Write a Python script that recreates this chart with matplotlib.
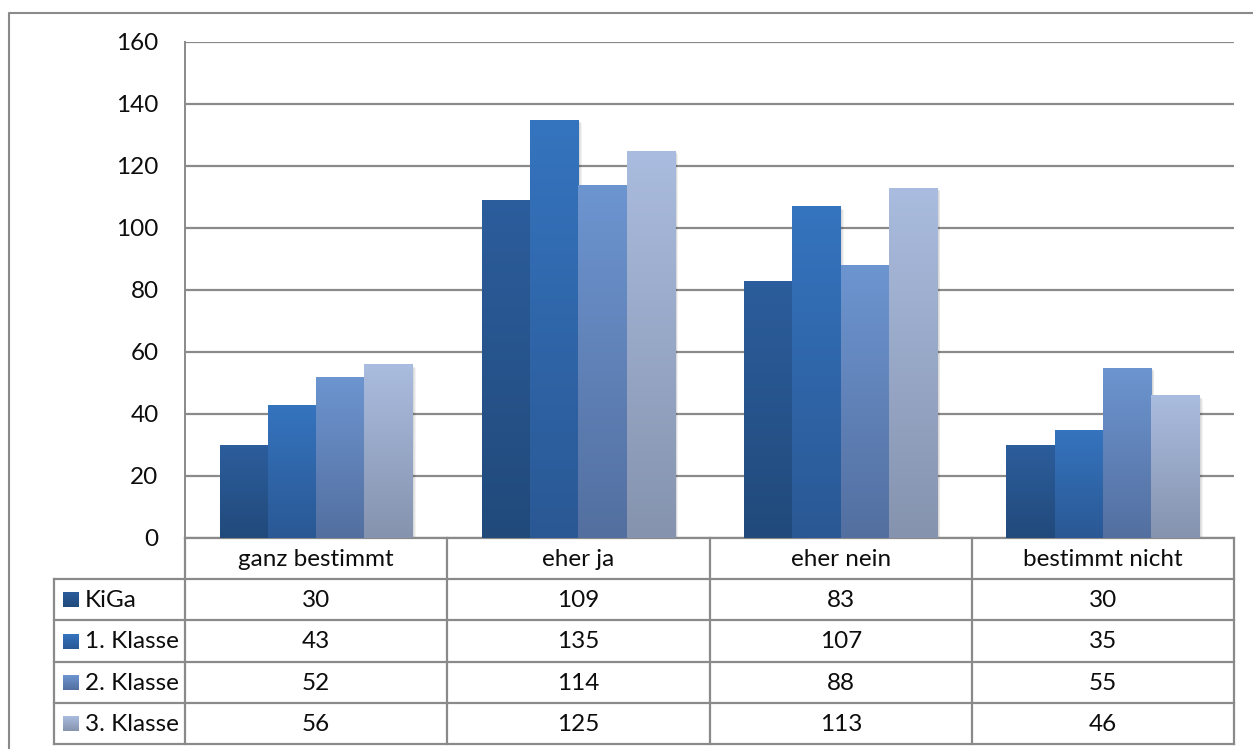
import matplotlib.pyplot as plt
import numpy as np
import matplotlib.transforms as mtransforms
from matplotlib.colors import to_rgb
from matplotlib.patches import Rectangle

plt.rcParams['font.family'] = ['Lato', 'DejaVu Sans']

categories = ['ganz bestimmt', 'eher ja', 'eher nein', 'bestimmt nicht']
series = ['KiGa', '1. Klasse', '2. Klasse', '3. Klasse']
kiga = [30, 109, 83, 30]
klasse1 = [43, 135, 107, 35]
klasse2 = [52, 114, 88, 55]
klasse3 = [56, 125, 113, 46]
values = [kiga, klasse1, klasse2, klasse3]
y_ticks = [0, 20, 40, 60, 80, 100, 120, 140, 160]

# gradient end colours for each series (top, bottom)
top_colors = ['#2c5d9c', '#3574bf', '#6d95d0', '#aabcdf']
bottom_colors = ['#214a7b', '#2a5894', '#536fa0', '#8593ae']

line_gray = '#8a8a8a'
text_col = '#0d0d0d'
fs = 17.5
W, H = 1253, 749
fig = plt.figure(figsize=(W / 100, H / 100), dpi=100)


def px_rect(x0, y0, x1, y1):
    """pixel box (top-left origin) -> figure fraction rect"""
    return [x0 / W, 1 - y1 / H, (x1 - x0) / W, (y1 - y0) / H]


def gradient(top, bottom, n=256):
    t = np.linspace(0, 1, n)[:, None]
    top, bottom = np.array(to_rgb(top)), np.array(to_rgb(bottom))
    return (top * (1 - t) + bottom * t)[:, None, :]


# overlay for the frame and the data table, in pixel units
tab = fig.add_axes([0, 0, 1, 1], zorder=0)
tab.set_xlim(0, W)
tab.set_ylim(H, 0)
tab.axis('off')

ax = fig.add_axes(px_rect(185, 42, 1234, 538), zorder=1)
ax.patch.set_alpha(0)

x = np.arange(len(categories))
width = 0.184
for i, (name, vals) in enumerate(zip(series, values)):
    pos = x + (i - 1.5) * width
    bars = ax.bar(pos, vals, width, color='none', edgecolor='none', zorder=3)
    img = gradient(top_colors[i], bottom_colors[i])
    for b in bars:
        bx, bw, bh = b.get_x(), b.get_width(), b.get_height()
        # soft drop shadow
        for k in (1, 2, 3, 4):
            off = mtransforms.offset_copy(ax.transData, fig=fig, x=k * 0.6, y=-k * 0.6, units='points')
            ax.add_patch(Rectangle((bx, 0), bw, bh, transform=off, facecolor='#000000',
                                   alpha=0.05, edgecolor='none', zorder=2))
        im = ax.imshow(img, extent=[bx, bx + bw, 0, bh], aspect='auto', zorder=3,
                       interpolation='bilinear')
        im.set_clip_path(b)

ax.set_xlim(-0.5, len(categories) - 0.5)
ax.set_ylim(0, 160)
ax.set_yticks(y_ticks)
ax.set_xticks([])
ax.yaxis.grid(True, color=line_gray, linewidth=1.6)
ax.set_axisbelow(True)
for s in ['top', 'right']:
    ax.spines[s].set_visible(False)
ax.spines['left'].set_color(line_gray)
ax.spines['bottom'].set_color(line_gray)
ax.spines['left'].set_linewidth(1.4)
ax.spines['bottom'].set_linewidth(1.6)
ax.tick_params(axis='y', length=0, pad=19, labelsize=fs, labelcolor=text_col)

# outer chart frame (runs off the right and bottom edge)
tab.plot([9, 9, W + 5], [H + 5, 13, 13], color=line_gray, lw=1.5)

# data table under the plot
col_edges = [185, 447, 710, 972, 1234]
row_edges = [538, 579, 620, 662, 703, 744]
lab_left = 54
kw = dict(color=line_gray, lw=1.6, solid_capstyle='projecting')
for yy in row_edges[1:]:
    tab.plot([lab_left, col_edges[-1]], [yy, yy], **kw)
for xx in col_edges:
    tab.plot([xx, xx], [row_edges[0], row_edges[-1]], **kw)
tab.plot([lab_left, lab_left], [row_edges[1], row_edges[-1]], **kw)

for j, cat in enumerate(categories):
    cx = (col_edges[j] + col_edges[j + 1]) / 2
    tab.text(cx, (row_edges[0] + row_edges[1]) / 2 + 1, cat, ha='center', va='center',
             fontsize=fs, color=text_col)
for i, (name, vals) in enumerate(zip(series, values)):
    cy = (row_edges[i + 1] + row_edges[i + 2]) / 2
    tab.imshow(gradient(top_colors[i], bottom_colors[i]), extent=[63, 79, cy + 8, cy - 7],
               aspect='auto')
    tab.text(85, cy + 1, name, ha='left', va='center', fontsize=fs, color=text_col)
    for j, v in enumerate(vals):
        cx = (col_edges[j] + col_edges[j + 1]) / 2
        tab.text(cx, cy + 1, str(v), ha='center', va='center', fontsize=fs, color=text_col)
tab.set_xlim(0, W)
tab.set_ylim(H, 0)

fig.savefig('out.png', dpi=100, facecolor='white')
